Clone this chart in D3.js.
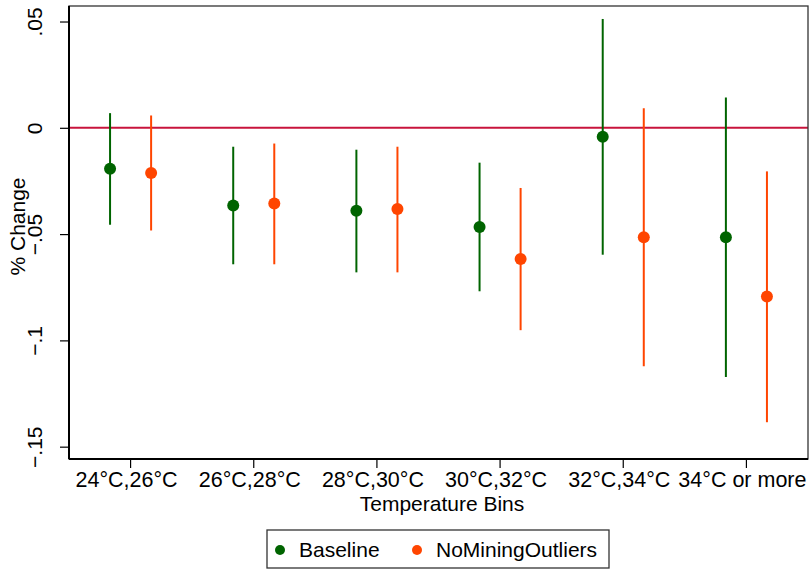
<!DOCTYPE html>
<html>
<head>
<meta charset="utf-8">
<script src="https://cdn.jsdelivr.net/npm/d3@7"></script>
<style>
  html, body { margin: 0; padding: 0; background: #fff; }
  svg { display: block; font-family: "Liberation Sans", Arial, sans-serif; }
</style>
</head>
<body>
<svg id="chart" width="809" height="569"></svg>
<script>
// Temperature bins on the x axis
const bins = ["24°C,26°C", "26°C,28°C", "28°C,30°C", "30°C,32°C", "32°C,34°C", "34°C or more"];
const seriesNames = ["Baseline", "NoMiningOutliers"];
const seriesColors = ["#006400", "#ff4500"];

// Point estimates and confidence bounds per bin
const baselineEst   = [-0.0193, -0.0365, -0.0390, -0.0467, -0.0042, -0.0515];
const baselineLow   = [-0.0456, -0.0642, -0.0680, -0.0769, -0.0597, -0.1172];
const baselineHigh  = [ 0.0069, -0.0089, -0.0103, -0.0164,  0.0512,  0.0142];
const noMiningEst   = [-0.0213, -0.0356, -0.0382, -0.0617, -0.0515, -0.0794];
const noMiningLow   = [-0.0483, -0.0642, -0.0680, -0.0952, -0.1122, -0.1385];
const noMiningHigh  = [ 0.0058, -0.0074, -0.0089, -0.0283,  0.0092, -0.0205];

// y tick values and labels
const yTicks = [0.05, 0, -0.05, -0.1, -0.15];
const yTickLabels = [".05", "0", "\u2212.05", "\u2212.1", "\u2212.15"];

const series = [
  { name: seriesNames[0], color: seriesColors[0], est: baselineEst, low: baselineLow, high: baselineHigh },
  { name: seriesNames[1], color: seriesColors[1], est: noMiningEst, low: noMiningLow, high: noMiningHigh }
];

const svg = d3.select("#chart");
const plot = { left: 69, right: 808, top: 6, bottom: 459 };
const fontSize = 21;

const x = d3.scaleBand().domain(bins).range([plot.left, plot.right]).padding(0);
const xs = d3.scalePoint().domain(seriesNames).range([0, x.bandwidth()]).padding(1);
const y = d3.scaleLinear().domain([-0.1558, 0.0573]).range([plot.bottom, plot.top]);

// Zero reference line
svg.append("line")
  .attr("x1", plot.left).attr("x2", plot.right)
  .attr("y1", y(0)).attr("y2", y(0))
  .attr("stroke", "#c8143c").attr("stroke-width", 2);

// Confidence intervals and point estimates
series.forEach(s => {
  const g = svg.append("g");
  g.selectAll("line.ci").data(bins).join("line")
    .attr("class", "ci")
    .attr("x1", d => x(d) + xs(s.name)).attr("x2", d => x(d) + xs(s.name))
    .attr("y1", (d, i) => y(s.low[i])).attr("y2", (d, i) => y(s.high[i]))
    .attr("stroke", s.color).attr("stroke-width", 2);
  g.selectAll("circle").data(bins).join("circle")
    .attr("cx", d => x(d) + xs(s.name))
    .attr("cy", (d, i) => y(s.est[i]))
    .attr("r", 6)
    .attr("fill", s.color);
});

// Plot frame
svg.append("rect")
  .attr("x", plot.left).attr("y", plot.top)
  .attr("width", plot.right - plot.left).attr("height", plot.bottom - plot.top)
  .attr("fill", "none").attr("stroke", "#333").attr("stroke-width", 1.3);

// Left axis
const yAxis = svg.append("g")
  .attr("transform", `translate(${plot.left},0)`)
  .call(d3.axisLeft(y).tickValues(yTicks).tickSize(9).tickFormat((d, i) => yTickLabels[i]));
yAxis.select(".domain").attr("stroke", "#000").attr("stroke-width", 2).attr("d", `M0,${plot.top}V${plot.bottom}`);
yAxis.selectAll(".tick line").attr("stroke", "#000").attr("stroke-width", 1.2);
yAxis.selectAll(".tick text")
  .attr("font-size", fontSize).attr("fill", "#000")
  .attr("text-anchor", "middle")
  .attr("x", null).attr("dy", null)
  .attr("transform", "translate(-27,0) rotate(-90)");

// Bottom axis
const xAxis = svg.append("g")
  .attr("transform", `translate(0,${plot.bottom})`)
  .call(d3.axisBottom(x).tickSize(9));
xAxis.select(".domain").attr("stroke", "#000").attr("stroke-width", 2).attr("d", `M${plot.left},0H${plot.right}`);
xAxis.selectAll(".tick line").attr("stroke", "#000").attr("stroke-width", 1.2);
xAxis.selectAll(".tick text")
  .attr("font-size", fontSize + 0.5).attr("fill", "#000")
  .attr("y", 28).attr("dy", null).attr("dx", -4);

// Axis titles
svg.append("text")
  .attr("x", 442).attr("y", 511)
  .attr("text-anchor", "middle").attr("font-size", fontSize)
  .text("Temperature Bins");
svg.append("text")
  .attr("transform", `translate(25,${(plot.top + plot.bottom) / 2 - 6}) rotate(-90)`)
  .attr("text-anchor", "middle").attr("font-size", fontSize)
  .text("% Change");

// Legend
const legend = svg.append("g");
legend.append("rect")
  .attr("x", 267).attr("y", 530).attr("width", 342).attr("height", 38)
  .attr("fill", "#fff").attr("stroke", "#333").attr("stroke-width", 1.3);
const legendX = [280, 417];
series.forEach((s, i) => {
  legend.append("circle").attr("cx", legendX[i]).attr("cy", 550).attr("r", 5).attr("fill", s.color);
  legend.append("text").attr("x", legendX[i] + 19).attr("y", 557)
    .attr("font-size", fontSize).text(s.name);
});
</script>
</body>
</html>
